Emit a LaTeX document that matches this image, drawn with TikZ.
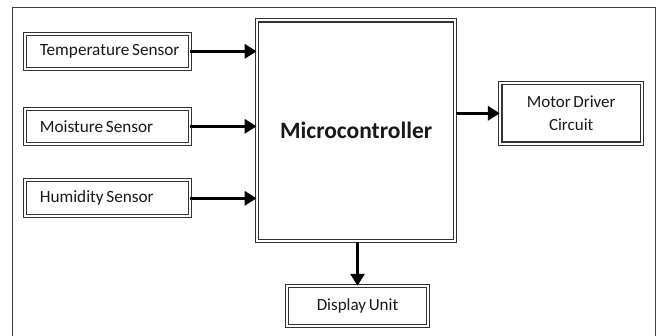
\documentclass[tikz,border=0pt]{standalone}
\usepackage{fontspec}
\setmainfont{Carlito}[WordSpace=0.7]
\usetikzlibrary{arrows.meta}
\newcommand\sensorlabel[1]{\makebox[135pt][l]{#1}}
\begin{document}
\begin{tikzpicture}[x=1pt,y=-1pt,
  dbox/.style={draw=black!80, line width=1.1pt, double=white, double distance=2pt,
    fill=white, inner sep=0pt, text=black!90},
  sensor/.style={dbox, minimum height=35pt, minimum width=165pt,
    inner xsep=14pt, font=\fontsize{17.2}{18}\selectfont},
  conn/.style={line width=3.4pt, -{Triangle[length=12pt,width=14pt]}, black},
  frame/.style={draw=black!75, line width=1pt}]
\useasboundingbox (0,0) rectangle (659,335);
\fill[white] (0,0) rectangle (659,335);
\coordinate (fbl) at (12.7,340);
\coordinate (ftl) at (12.7,7.3);
\coordinate (ftr) at (655,7.3);
\coordinate (fbr) at (655,340);
\draw[frame] (fbl) -- (ftl) -- (ftr) -- (fbr);
\node[sensor] (temp) at (107.3,51.3) {\sensorlabel{Temperature Sensor}};
\node[sensor] (moist) at (107.3,126.3) {\sensorlabel{Moisture Sensor}};
\node[sensor, minimum height=36pt] (humid) at (107.3,198.3) {\sensorlabel{Humidity Sensor}};
\node[dbox, minimum width=198pt, minimum height=220.7pt,
  font=\bfseries\fontsize{23.5}{26}\selectfont] (mc) at (356.2,130.8) {Microcontroller};
\node[dbox, minimum width=141.5pt, minimum height=60.5pt, align=center,
  font=\fontsize{17}{23}\selectfont] (motor) at (571.2,113.3) {Motor Driver\\Circuit};
\node[dbox, minimum width=141pt, minimum height=40pt,
  font=\fontsize{17}{18}\selectfont] (disp) at (357.5,306.3) {Display Unit};
\draw[conn] (temp.east) -- (temp.east -| mc.west);
\draw[conn] (moist.east) -- (moist.east -| mc.west);
\draw[conn] (humid.east) -- (humid.east -| mc.west);
\draw[conn] (mc.east |- motor.west) -- (motor.west);
\draw[conn] (mc.south -| disp.north) -- (disp.north);
\end{tikzpicture}
\end{document}
